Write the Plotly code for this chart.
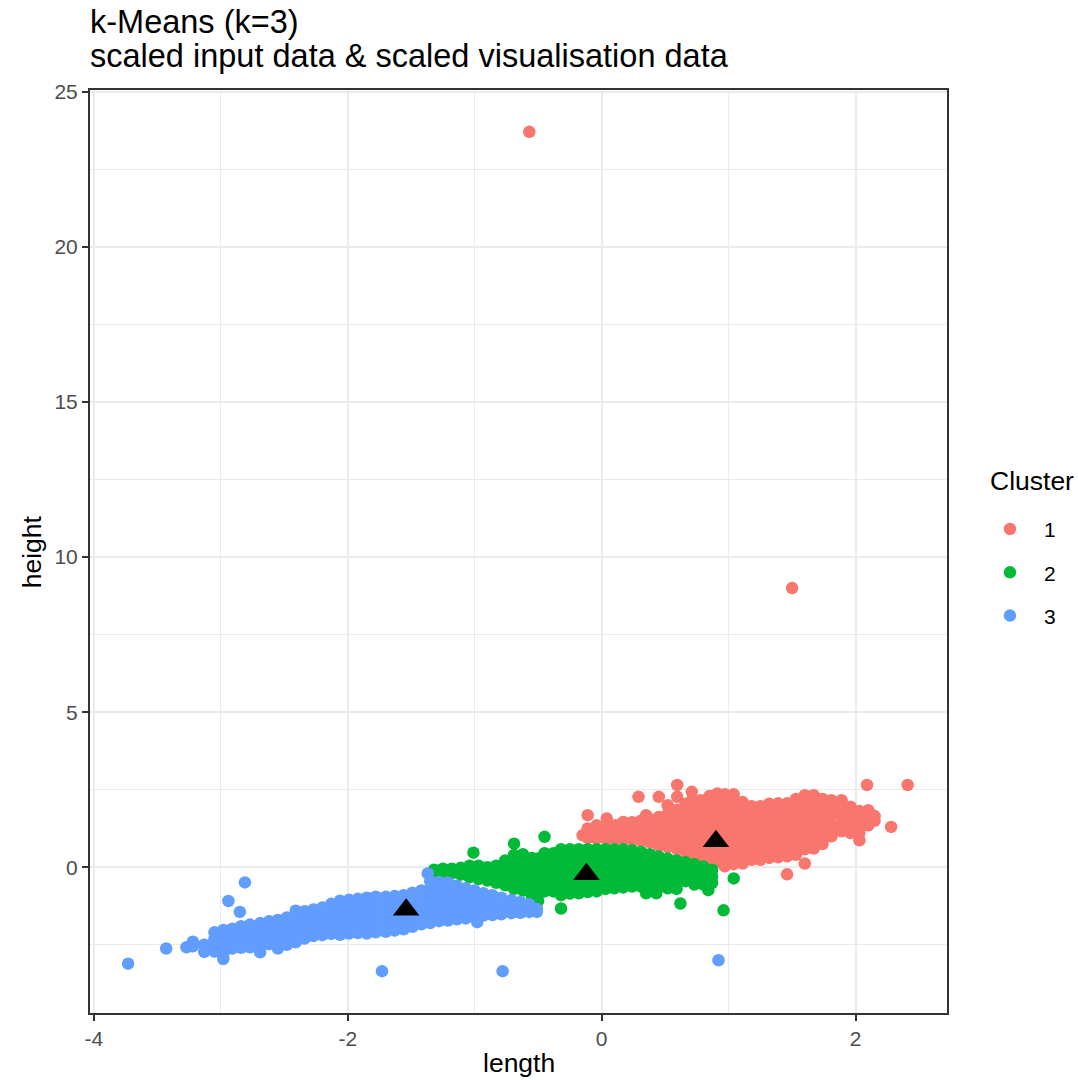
import plotly.graph_objects as go

# ---------------------------------------------------------------------------
# Observations per cluster: (length, [heights observed at that length])
# ---------------------------------------------------------------------------
cluster1 = [
    (-0.15, [1.03]),
    (-0.11, [1.68, 1.25, 0.95]),
    (-0.04, [1.35, 1.10, 0.92]),
    (0.04, [1.57, 1.30, 1.05, 0.90]),
    (0.11, [1.35, 1.12, 0.92]),
    (0.17, [1.46, 1.22, 0.98, 0.90]),
    (0.24, [1.45, 1.20, 0.95, 0.88]),
    (0.29, [2.27]),
    (0.31, [1.50, 1.25, 1.00, 0.85]),
    (0.35, [1.68]),
    (0.38, [1.55, 1.30, 1.05, 0.80]),
    (0.45, [2.27, 1.62, 1.38, 1.12, 0.88, 0.70]),
    (0.52, [2.00, 1.72, 1.46, 1.20, 0.95, 0.65]),
    (0.595, [2.65, 2.27, 1.85, 1.60, 1.35, 1.10, 0.85, 0.58]),
    (0.66, [2.05, 1.80, 1.55, 1.30, 1.05, 0.80, 0.50]),
    (0.71, [2.43, 2.15, 1.90, 1.65, 1.40, 1.15, 0.90, 0.65, 0.42]),
    (0.78, [2.16, 1.92, 1.68, 1.42, 1.18, 0.92, 0.68, 0.38]),
    (0.85, [2.30, 2.05, 1.80, 1.55, 1.30, 1.05, 0.80, 0.55, 0.28]),
    (0.91, [2.38, 2.12, 1.88, 1.62, 1.38, 1.12, 0.88, 0.62, 0.38, 0.18]),
    (0.97, [2.35, 2.10, 1.85, 1.60, 1.35, 1.10, 0.85, 0.60, 0.35, 0.10, 0.03]),
    (1.04, [2.35, 2.10, 1.85, 1.60, 1.35, 1.10, 0.85, 0.60, 0.35, 0.10]),
    (1.11, [2.10, 1.85, 1.60, 1.35, 1.10, 0.85, 0.60, 0.35, 0.12]),
    (1.18, [1.97, 1.72, 1.48, 1.22, 0.98, 0.72, 0.48, 0.24]),
    (1.25, [1.97, 1.72, 1.48, 1.22, 0.98, 0.72, 0.48, 0.24]),
    (1.32, [2.05, 1.80, 1.55, 1.30, 1.05, 0.80, 0.55, 0.30]),
    (1.39, [2.06, 1.82, 1.56, 1.32, 1.06, 0.82, 0.56, 0.32]),
    (1.46, [2.06, 1.82, 1.56, 1.32, 1.06, 0.82, 0.56, 0.35, -0.23]),
    (1.50, [9.00]),
    (1.53, [2.20, 1.95, 1.70, 1.45, 1.20, 0.95, 0.70, 0.40]),
    (1.60, [2.32, 2.08, 1.82, 1.58, 1.32, 1.08, 0.82, 0.58, 0.12]),
    (1.67, [2.32, 2.08, 1.82, 1.58, 1.32, 1.08, 0.82, 0.60]),
    (1.74, [2.20, 1.95, 1.70, 1.45, 1.20, 0.95, 0.75]),
    (1.81, [2.16, 1.92, 1.68, 1.42, 1.18, 1.00]),
    (1.89, [2.16, 1.92, 1.68, 1.42, 1.16]),
    (1.96, [1.95, 1.70, 1.45, 1.20, 1.10]),
    (2.03, [1.81, 1.58, 1.35, 1.10, 0.87]),
    (2.09, [2.65]),
    (2.10, [1.84, 1.60, 1.35]),
    (2.13, [1.68]),
    (2.15, [1.65, 1.50]),
    (2.28, [1.30]),
    (2.41, [2.65]),
    (-0.57, [23.71]),
]

cluster2 = [
    (-1.32, [-0.08, -0.15]),
    (-1.25, [-0.05, -0.15]),
    (-1.18, [-0.05, -0.20]),
    (-1.11, [-0.02, -0.24]),
    (-1.04, [0.05, -0.15, -0.32]),
    (-1.01, [0.47]),
    (-0.97, [0.05, -0.18, -0.38]),
    (-0.90, [0.00, -0.22, -0.43]),
    (-0.83, [0.05, -0.18, -0.40, -0.50]),
    (-0.76, [0.22, 0.00, -0.22, -0.45, -0.58]),
    (-0.69, [0.76, 0.40, 0.15, -0.10, -0.35, -0.62, -0.70]),
    (-0.62, [0.42, 0.18, -0.06, -0.30, -0.55, -0.75]),
    (-0.55, [0.30, 0.05, -0.20, -0.45, -0.70, -0.92]),
    (-0.50, [0.28, 0.03, -0.22, -0.48, -0.72, -1.08]),
    (-0.45, [0.98, 0.45, 0.20, -0.05, -0.30, -0.55, -0.78]),
    (-0.38, [0.45, 0.20, -0.05, -0.30, -0.55, -0.78]),
    (-0.32, [0.58, 0.33, 0.08, -0.17, -0.42, -0.66, -0.90, -1.33]),
    (-0.25, [0.58, 0.33, 0.08, -0.17, -0.42, -0.66, -0.85]),
    (-0.18, [0.58, 0.33, 0.08, -0.17, -0.42, -0.66, -0.84]),
    (-0.11, [0.58, 0.33, 0.08, -0.17, -0.42, -0.66, -0.80]),
    (-0.04, [0.58, 0.33, 0.08, -0.17, -0.42, -0.66, -0.78]),
    (0.03, [0.58, 0.33, 0.08, -0.17, -0.42, -0.70]),
    (0.10, [0.58, 0.33, 0.08, -0.17, -0.42, -0.68]),
    (0.17, [0.58, 0.33, 0.08, -0.17, -0.42, -0.65]),
    (0.24, [0.55, 0.30, 0.05, -0.20, -0.45, -0.62]),
    (0.31, [0.50, 0.25, 0.00, -0.25, -0.50, -0.62]),
    (0.35, [-0.84]),
    (0.38, [0.42, 0.18, -0.07, -0.32, -0.55, -0.70]),
    (0.43, [-0.84]),
    (0.45, [0.35, 0.10, -0.15, -0.40, -0.62]),
    (0.52, [0.28, 0.03, -0.22, -0.46, -0.68]),
    (0.59, [0.22, -0.03, -0.28, -0.52, -0.70]),
    (0.62, [-1.17]),
    (0.66, [0.16, -0.08, -0.32, -0.45]),
    (0.73, [0.10, -0.15, -0.38, -0.56]),
    (0.80, [0.02, -0.22, -0.46, -0.56]),
    (0.84, [-0.74]),
    (0.87, [-0.08, -0.30, -0.50]),
    (0.96, [-1.39]),
    (1.04, [-0.36]),
]

cluster3 = [
    (-3.73, [-3.11]),
    (-3.43, [-2.62]),
    (-3.27, [-2.58]),
    (-3.22, [-2.40, -2.55]),
    (-3.13, [-2.50, -2.73]),
    (-3.05, [-2.10, -2.32, -2.55, -2.72]),
    (-2.98, [-2.02, -2.25, -2.50, -2.80, -2.96]),
    (-2.94, [-1.09]),
    (-2.91, [-1.98, -2.22, -2.45, -2.62]),
    (-2.85, [-1.44]),
    (-2.84, [-1.90, -2.15, -2.40, -2.60]),
    (-2.81, [-0.49]),
    (-2.77, [-1.85, -2.08, -2.32, -2.58]),
    (-2.69, [-1.80, -2.02, -2.28, -2.52, -2.74]),
    (-2.62, [-1.74, -1.98, -2.22, -2.48]),
    (-2.55, [-1.70, -1.95, -2.20, -2.45, -2.62]),
    (-2.48, [-1.62, -1.88, -2.12, -2.38, -2.50]),
    (-2.41, [-1.40, -1.66, -1.92, -2.18, -2.42]),
    (-2.34, [-1.42, -1.65, -1.90, -2.15, -2.30]),
    (-2.27, [-1.36, -1.58, -1.82, -2.05, -2.22]),
    (-2.20, [-1.30, -1.52, -1.78, -2.02, -2.19]),
    (-2.13, [-1.18, -1.42, -1.68, -1.92, -2.15]),
    (-2.06, [-1.08, -1.32, -1.58, -1.82, -2.05, -2.18]),
    (-1.99, [-1.05, -1.30, -1.55, -1.80, -2.05, -2.14]),
    (-1.92, [-1.02, -1.26, -1.50, -1.75, -2.00, -2.12]),
    (-1.85, [-0.98, -1.22, -1.48, -1.72, -1.96, -2.14]),
    (-1.78, [-0.95, -1.20, -1.45, -1.70, -1.95, -2.10]),
    (-1.73, [-3.35]),
    (-1.70, [-0.95, -1.20, -1.45, -1.70, -1.95, -2.08]),
    (-1.63, [-0.93, -1.18, -1.42, -1.68, -1.92, -2.04]),
    (-1.56, [-0.90, -1.15, -1.40, -1.65, -1.90, -2.00]),
    (-1.49, [-0.82, -1.07, -1.32, -1.57, -1.80, -1.92]),
    (-1.42, [-0.75, -1.00, -1.25, -1.50, -1.74, -1.84]),
    (-1.37, [-0.20]),
    (-1.35, [-0.45, -0.70, -0.95, -1.20, -1.45, -1.68, -1.80]),
    (-1.28, [-0.48, -0.72, -0.98, -1.22, -1.48, -1.74]),
    (-1.21, [-0.49, -0.74, -1.00, -1.25, -1.50, -1.72]),
    (-1.14, [-0.60, -0.85, -1.10, -1.35, -1.58, -1.68]),
    (-1.07, [-0.68, -0.92, -1.16, -1.40, -1.65]),
    (-1.00, [-0.75, -1.00, -1.25, -1.48, -1.60]),
    (-0.98, [-1.77]),
    (-0.93, [-0.84, -1.08, -1.32, -1.56]),
    (-0.86, [-0.90, -1.14, -1.38, -1.54]),
    (-0.79, [-0.98, -1.22, -1.46, -1.52]),
    (-0.78, [-3.35]),
    (-0.71, [-1.06, -1.28, -1.48]),
    (-0.64, [-1.12, -1.34, -1.47]),
    (-0.57, [-1.19, -1.44]),
    (-0.51, [-1.35, -1.44]),
    (0.92, [-3.00]),
]

# Cluster centres (k-means result)
centre_length = [0.90, -0.12, -1.54]
centre_height = [0.84, -0.23, -1.37]

cluster_labels = ["1", "2", "3"]
cluster_colours = ["#F8766D", "#00BA38", "#619CFF"]

x_ticks = [-4, -2, 0, 2]
x_tick_text = ["-4", "-2", "0", "2"]
x_minor = [-3, -1, 1]
y_ticks = [0, 5, 10, 15, 20, 25]
y_tick_text = ["0", "5", "10", "15", "20", "25"]
y_minor = [-2.5, 2.5, 7.5, 12.5, 17.5, 22.5]

FONT = "Liberation Sans, Arial, Helvetica, sans-serif"


def expand(columns):
    xs, ys = [], []
    for length, heights in columns:
        for h in heights:
            xs.append(length)
            ys.append(h)
    return xs, ys


fig = go.Figure()

for cols, label, colour in zip([cluster1, cluster2, cluster3], cluster_labels, cluster_colours):
    xs, ys = expand(cols)
    fig.add_trace(go.Scatter(
        x=xs, y=ys, mode="markers", name=label, legendgroup=label,
        marker=dict(size=12.5, color=colour, line=dict(width=0)),
        hoverinfo="skip",
    ))

fig.add_trace(go.Scatter(
    x=centre_length, y=centre_height, mode="markers", showlegend=False,
    marker=dict(symbol="triangle-up", size=23, color="black", line=dict(width=0)),
    hoverinfo="skip",
))

axis_common = dict(
    showgrid=True, gridcolor="#EBEBEB", gridwidth=2.4,
    zeroline=False,
    showline=True, mirror=True, linecolor="#333333", linewidth=2,
    ticks="outside", ticklen=6, tickwidth=2, tickcolor="#333333",
    tickfont=dict(family=FONT, size=21, color="#4D4D4D"),
)

fig.update_layout(
    width=1078, height=1080,
    margin=dict(l=90, r=131, t=90, b=67),
    paper_bgcolor="white", plot_bgcolor="white",
    font=dict(family=FONT, color="black"),
    xaxis=dict(
        range=[-4.03, 2.72], tickmode="array", tickvals=x_ticks, ticktext=x_tick_text,
        minor=dict(tickmode="array", tickvals=x_minor, showgrid=True,
                   gridcolor="#EBEBEB", gridwidth=1.4, ticks=""),
        **axis_common,
    ),
    yaxis=dict(
        range=[-4.70, 25.06], tickmode="array", tickvals=y_ticks, ticktext=y_tick_text,
        minor=dict(tickmode="array", tickvals=y_minor, showgrid=True,
                   gridcolor="#EBEBEB", gridwidth=1.4, ticks=""),
        **axis_common,
    ),
    showlegend=True,
    legend=dict(
        x=1.0338, y=0.5462, xanchor="left", yanchor="top",
        traceorder="grouped", tracegroupgap=13, itemwidth=58,
        font=dict(family=FONT, size=21, color="black"),
        bgcolor="rgba(0,0,0,0)", borderwidth=0,
    ),
    annotations=[
        dict(text="k-Means (k=3)", x=-0.0029, y=1.0735, xref="paper", yref="paper",
             xanchor="left", yanchor="middle", showarrow=False,
             font=dict(family=FONT, size=32.5, color="black")),
        dict(text="scaled input data & scaled visualisation data", x=-0.0029, y=1.0373,
             xref="paper", yref="paper", xanchor="left", yanchor="middle", showarrow=False,
             font=dict(family=FONT, size=32.5, color="black")),
        dict(text="length", x=0.5, y=-0.0545, xref="paper", yref="paper",
             xanchor="center", yanchor="middle", showarrow=False,
             font=dict(family=FONT, size=26.5, color="black")),
        dict(text="height", x=-0.0679, y=0.5, xref="paper", yref="paper",
             xanchor="center", yanchor="middle", textangle=-90, showarrow=False,
             font=dict(family=FONT, size=26.5, color="black")),
        dict(text="Cluster", x=1.0478, y=0.5764, xref="paper", yref="paper",
             xanchor="left", yanchor="middle", showarrow=False,
             font=dict(family=FONT, size=26.5, color="black")),
    ],
)

fig.write_html("out.html")
